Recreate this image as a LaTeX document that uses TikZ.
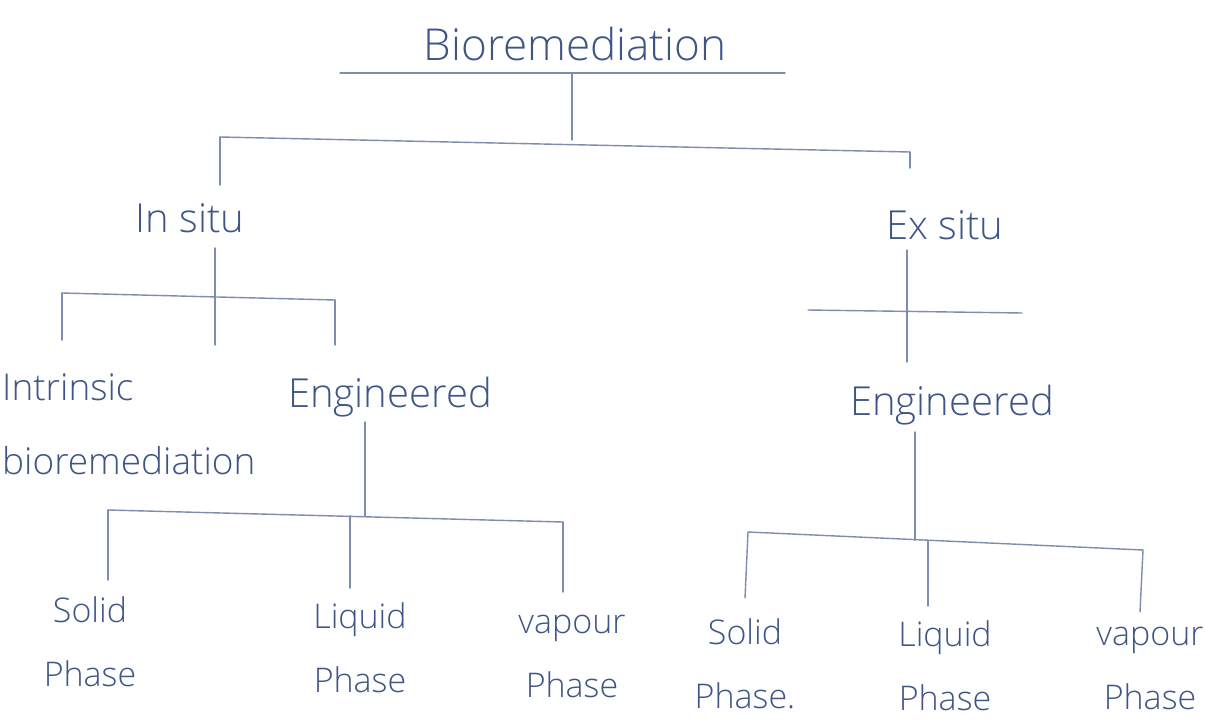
\documentclass[tikz,border=0pt]{standalone}
\usepackage{fontspec}
\setmainfont{Open Sans Light}[UprightFont=*,BoldFont=Open Sans]
\definecolor{ink}{HTML}{3E5586}
\definecolor{pen}{HTML}{7C8DAE}
\begin{document}
\begin{tikzpicture}[x=1pt,y=-1pt,
  title/.style={text=ink,font=\fontsize{44}{50}\selectfont,inner sep=0pt},
  lbl/.style={text=ink,font=\fontsize{40}{46}\selectfont,inner sep=0pt,align=center},
  lbl2/.style={text=ink,font=\fontsize{34}{64}\selectfont,inner sep=0pt,align=center},
  wire/.style={draw=pen,line width=1.4pt,line cap=round}]
\useasboundingbox (0,0) rectangle (1205,723);
\fill[white] (0,0) rectangle (1205,723);
% labels
\node[title] (bio) at (575,44) {Bioremediation};
\node[lbl] (insitu) at (190,218) {In situ};
\node[lbl] (exsitu) at (945,225) {Ex situ};
\node[text=ink,font=\fontsize{37}{74}\selectfont,inner sep=0pt,align=left,anchor=west] (intr) at (2,424) {Intrinsic\\bioremediation};
\node[lbl] (eng1) at (390,397) {Engineered};
\node[lbl] (eng2) at (952,405) {Engineered};
\node[lbl2] (s1) at (90,642) {Solid\\Phase};
\node[lbl2] (l1) at (360,648) {Liquid\\Phase};
\node[lbl2] (v1) at (572,656) {vapour\\Phase};
\node[lbl2] (s2) at (745,664) {Solid\\Phase.};
\node[lbl2] (l2) at (945,666) {Liquid\\Phase};
\node[lbl2] (v2) at (1150,668) {vapour\\Phase};
% junction coordinates
\coordinate (u1) at (340,73); \coordinate (u2) at (785,73);
\coordinate (b0) at (572,73); \coordinate (b1) at (572,140);
\coordinate (bl) at (220,137); \coordinate (br) at (910,152);
\coordinate (blt) at (220,185); \coordinate (brt) at (910,168);
\coordinate (i0) at (215,248); \coordinate (i1) at (215,345);
\coordinate (il) at (62,293); \coordinate (ir) at (335,300);
\coordinate (ilt) at (62,340); \coordinate (irt) at (335,345);
\coordinate (e0) at (907,250); \coordinate (e1) at (907,362);
\coordinate (c1) at (808,310); \coordinate (c2) at (1022,313);
\coordinate (g0) at (365,422); \coordinate (g1) at (365,516);
\coordinate (gl) at (108,510); \coordinate (gr) at (563,522);
\coordinate (gm) at (350,516);
\coordinate (glt) at (108,580); \coordinate (gmt) at (350,588); \coordinate (grt) at (563,592);
\coordinate (h0) at (915,432); \coordinate (h1) at (915,540);
\coordinate (hl) at (748,532); \coordinate (hr) at (1143,550);
\coordinate (hm) at (928,541);
\coordinate (hlt) at (745,598); \coordinate (hmt) at (928,606); \coordinate (hrt) at (1140,612);
% connectors
\draw[wire] (u1) -- (u2);
\draw[wire] (b0) -- (b1);
\draw[wire] (bl) -- (br);
\draw[wire] (bl) -- (blt);
\draw[wire] (br) -- (brt);
\draw[wire] (i0) -- (i1);
\draw[wire] (il) -- (ir);
\draw[wire] (il) -- (ilt);
\draw[wire] (ir) -- (irt);
\draw[wire] (e0) -- (e1);
\draw[wire] (c1) -- (c2);
\draw[wire] (g0) -- (g1);
\draw[wire] (gl) -- (gr);
\draw[wire] (gl) -- (glt);
\draw[wire] (gm) -- (gmt);
\draw[wire] (gr) -- (grt);
\draw[wire] (h0) -- (h1);
\draw[wire] (hl) -- (hr);
\draw[wire] (hl) -- (hlt);
\draw[wire] (hm) -- (hmt);
\draw[wire] (hr) -- (hrt);
\end{tikzpicture}
\end{document}
